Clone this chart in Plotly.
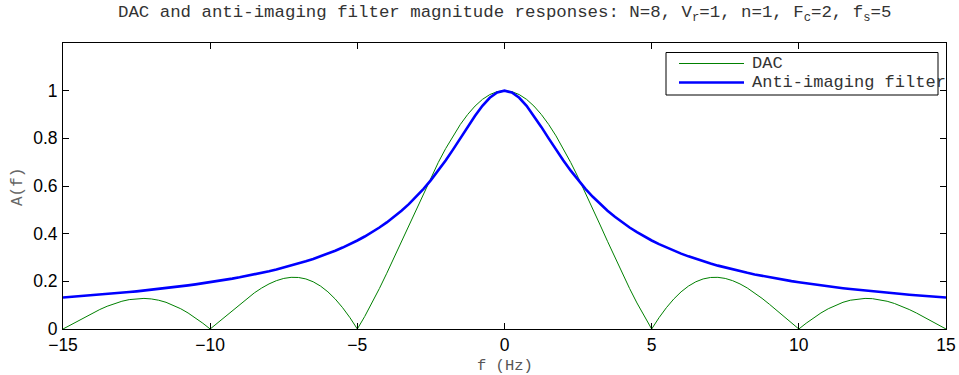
import plotly.graph_objects as go

# Frequency grid (Hz), 0.25 Hz spacing from -15 to 15
freq = [i * 0.25 for i in range(-60, 61)]

# DAC (zero-order hold) magnitude response
dac = [
    0.0000, 0.0169, 0.0339, 0.0507, 0.0668, 0.0818, 0.0954, 0.1070, 0.1164, 0.1233,
    0.1273, 0.1283, 0.1261, 0.1207, 0.1120, 0.1000, 0.0850, 0.0672, 0.0468, 0.0243,
    0.0000, 0.0255, 0.0518, 0.0781, 0.1039, 0.1286, 0.1515, 0.1719, 0.1892, 0.2028,
    0.2122, 0.2168, 0.2162, 0.2101, 0.1981, 0.1801, 0.1559, 0.1257, 0.0894, 0.0474,
    0.0000, 0.0524, 0.1093, 0.1700, 0.2339, 0.3001, 0.3679, 0.4363, 0.5046, 0.5716,
    0.6366, 0.6987, 0.7568, 0.8103, 0.8584, 0.9003, 0.9355, 0.9634, 0.9836, 0.9959,
    1.0000,
    0.9959, 0.9836, 0.9634, 0.9355, 0.9003, 0.8584, 0.8103, 0.7568, 0.6987, 0.6366,
    0.5716, 0.5046, 0.4363, 0.3679, 0.3001, 0.2339, 0.1700, 0.1093, 0.0524, 0.0000,
    0.0474, 0.0894, 0.1257, 0.1559, 0.1801, 0.1981, 0.2101, 0.2162, 0.2168, 0.2122,
    0.2028, 0.1892, 0.1719, 0.1515, 0.1286, 0.1039, 0.0781, 0.0518, 0.0255, 0.0000,
    0.0243, 0.0468, 0.0672, 0.0850, 0.1000, 0.1120, 0.1207, 0.1261, 0.1283, 0.1273,
    0.1233, 0.1164, 0.1070, 0.0954, 0.0818, 0.0668, 0.0507, 0.0339, 0.0169, 0.0000,
]

# First-order anti-imaging filter magnitude response
aif = [
    0.1322, 0.1344, 0.1366, 0.1390, 0.1414, 0.1439, 0.1465, 0.1493, 0.1521, 0.1550,
    0.1580, 0.1611, 0.1644, 0.1678, 0.1713, 0.1750, 0.1789, 0.1829, 0.1871, 0.1915,
    0.1961, 0.2009, 0.2060, 0.2113, 0.2169, 0.2228, 0.2290, 0.2356, 0.2425, 0.2499,
    0.2577, 0.2659, 0.2747, 0.2841, 0.2941, 0.3048, 0.3162, 0.3285, 0.3417, 0.3560,
    0.3714, 0.3881, 0.4061, 0.4258, 0.4472, 0.4706, 0.4961, 0.5241, 0.5547, 0.5882,
    0.6247, 0.6644, 0.7071, 0.7526, 0.8000, 0.8480, 0.8944, 0.9363, 0.9701, 0.9923,
    1.0000,
    0.9923, 0.9701, 0.9363, 0.8944, 0.8480, 0.8000, 0.7526, 0.7071, 0.6644, 0.6247,
    0.5882, 0.5547, 0.5241, 0.4961, 0.4706, 0.4472, 0.4258, 0.4061, 0.3881, 0.3714,
    0.3560, 0.3417, 0.3285, 0.3162, 0.3048, 0.2941, 0.2841, 0.2747, 0.2659, 0.2577,
    0.2499, 0.2425, 0.2356, 0.2290, 0.2228, 0.2169, 0.2113, 0.2060, 0.2009, 0.1961,
    0.1915, 0.1871, 0.1829, 0.1789, 0.1750, 0.1713, 0.1678, 0.1644, 0.1611, 0.1580,
    0.1550, 0.1521, 0.1493, 0.1465, 0.1439, 0.1414, 0.1390, 0.1366, 0.1344, 0.1322,
]

x_ticks = [-15, -10, -5, 0, 5, 10, 15]
x_tick_text = ["\u221215", "\u221210", "\u22125", "0", "5", "10", "15"]
y_ticks = [0, 0.2, 0.4, 0.6, 0.8, 1]
y_tick_text = ["0", "0.2", "0.4", "0.6", "0.8", "1"]

series_names = ["DAC", "Anti-imaging filter"]
series_colors = ["#008000", "#0000ff"]
series_widths = [1, 2.6]

assert len(freq) == len(dac) == len(aif)

MONO = "Liberation Mono, Courier New, monospace"
SANS = "Liberation Sans, Helvetica, Arial, sans-serif"

fig = go.Figure()
for name, ys, color, width in zip(series_names, [dac, aif], series_colors, series_widths):
    fig.add_trace(go.Scatter(
        x=freq, y=ys, mode="lines", name=name,
        line=dict(color=color, width=width),
        showlegend=False, hoverinfo="skip",
    ))

axis_common = dict(
    showline=True, linecolor="black", linewidth=1, mirror="ticks",
    ticks="inside", ticklen=6, tickcolor="black", tickwidth=1,
    showgrid=False, zeroline=False, automargin=False,
    tickfont=dict(family=SANS, size=17.5, color="black"),
)

fig.update_layout(
    width=959, height=375,
    margin=dict(l=63, r=13, t=43, b=46),
    paper_bgcolor="white", plot_bgcolor="white",
    xaxis=dict(range=[-15, 15], tickvals=x_ticks, ticktext=x_tick_text,
               ticklabelstandoff=0, **axis_common),
    yaxis=dict(range=[0, 1.2], tickvals=y_ticks, ticktext=y_tick_text,
               ticklabelstandoff=1, **axis_common),
    showlegend=False,
)

# Plot-area pixel geometry helpers (paper coordinates from page pixels)
plot_w, plot_h, left, top = 883, 286, 63, 43


def px_x(p):
    return (p - left) / plot_w


def px_y(p):
    return (top + plot_h - p) / plot_h


# Title
fig.add_annotation(
    xref="paper", yref="paper", x=0.5, y=px_y(14), xanchor="center", yanchor="middle",
    text="DAC and anti-imaging filter magnitude responses: N=8, V<sub>r</sub>=1, n=1, "
         "F<sub>c</sub>=2, f<sub>s</sub>=5",
    showarrow=False, font=dict(family=MONO, size=17.4, color="#333333"),
)

# Axis titles
fig.add_annotation(
    xref="paper", yref="paper", x=0.5, y=px_y(366), xanchor="center", yanchor="middle",
    text="f (Hz)", showarrow=False, font=dict(family=MONO, size=15.5, color="#555555"),
)
fig.add_annotation(
    xref="paper", yref="paper", x=px_x(18), y=px_y(187), xanchor="center", yanchor="middle",
    text="A(f)", textangle=-90, showarrow=False,
    font=dict(family=MONO, size=16, color="#666666"),
)

# Legend box with line samples and labels
fig.add_shape(type="rect", xref="paper", yref="paper",
              x0=px_x(666), x1=px_x(938), y0=px_y(95), y1=px_y(52.5),
              line=dict(color="black", width=1), fillcolor="white", layer="above")
for i, (name, color, width) in enumerate(zip(series_names, series_colors, series_widths)):
    yy = px_y(63.5 + i * 19)
    fig.add_shape(type="line", xref="paper", yref="paper",
                  x0=px_x(679), x1=px_x(744), y0=yy, y1=yy,
                  line=dict(color=color, width=width), layer="above")
    fig.add_annotation(xref="paper", yref="paper", x=px_x(750), y=yy,
                       xanchor="left", yanchor="middle", text=name, showarrow=False,
                       font=dict(family=MONO, size=17, color="#333333"))

fig.write_html("out.html")
